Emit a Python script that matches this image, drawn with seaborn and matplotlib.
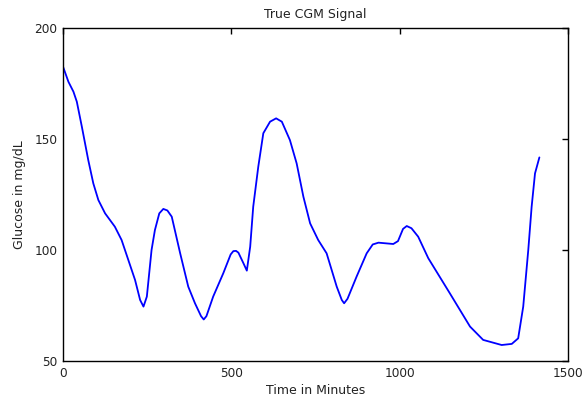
import matplotlib
matplotlib.use("Agg")
import matplotlib.pyplot as plt
import seaborn as sns
import pandas as pd

time_min = [0, 16, 31, 41, 56, 75, 90, 105, 125, 154, 174, 194, 214, 229, 239,
            249, 263, 273, 286, 298, 310, 323, 348, 372, 392, 410, 418, 426,
            446, 476, 498, 506, 514, 521, 536, 546, 556, 565, 580, 595, 615,
            633, 650, 674, 694, 714, 734, 758, 783, 813, 828, 835, 845, 872,
            902, 920, 937, 981, 995, 1010, 1021, 1035, 1055, 1085, 1149,
            1209, 1248, 1303, 1333, 1352, 1367, 1382, 1392, 1402, 1415]
glucose = [182.6, 175.8, 171.3, 166.8, 155.5, 140.5, 130.0, 122.5, 116.5,
           110.5, 104.5, 95.5, 86.5, 77.5, 74.5, 79.0, 100.0, 109.0, 116.5,
           118.5, 117.8, 115.0, 98.5, 83.5, 76.0, 70.2, 68.7, 70.2, 79.0,
           89.5, 98.0, 99.5, 99.6, 98.8, 94.0, 90.7, 101.5, 119.5, 137.5,
           152.6, 157.8, 159.3, 157.8, 149.5, 139.0, 124.0, 112.0, 104.5,
           98.5, 83.5, 77.5, 76.0, 78.0, 88.0, 98.5, 102.5, 103.3, 102.7,
           104.0, 109.5, 110.8, 109.8, 106.0, 96.3, 80.5, 65.5, 59.5, 57.2,
           57.7, 60.2, 74.5, 100.0, 119.5, 134.5, 141.7]
x_ticks = [0, 500, 1000, 1500]
y_ticks = [50, 100, 150, 200]

df = pd.DataFrame({"Time": time_min, "Glucose": glucose})

sns.set_style("white")
plt.rcParams["font.family"] = ["DejaVu Sans"]
txt = "#222222"

fig = plt.figure(figsize=(5.84, 3.96), dpi=100)
ax = fig.add_axes([0.1079, 0.0884, 0.8647, 0.8409])
sns.lineplot(data=df, x="Time", y="Glucose", color="#0000ff", linewidth=1.3, ax=ax)

ax.set_xlim(0, 1500)
ax.set_ylim(50, 200)
ax.set_xticks(x_ticks)
ax.set_yticks(y_ticks)
ax.tick_params(direction="in", length=4, width=1, top=True, right=True,
               labelsize=8.7, colors="black", labelcolor=txt, pad=4)
for s in ax.spines.values():
    s.set_color("black")
    s.set_linewidth(1.0)
ax.set_title("True CGM Signal", fontsize=9, color=txt, pad=7)
ax.set_xlabel("Time in Minutes", fontsize=9, color=txt, labelpad=3)
ax.set_ylabel("Glucose in mg/dL", fontsize=9, color=txt, labelpad=6)
ax.grid(False)

fig.savefig("out.png", dpi=100)
